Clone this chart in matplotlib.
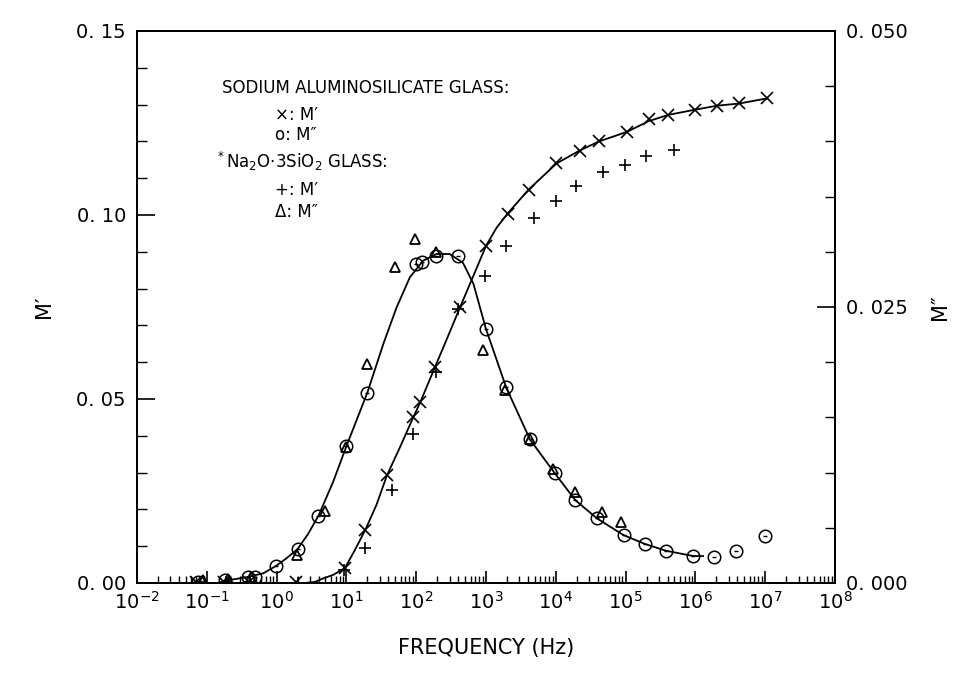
import numpy as np
import matplotlib
matplotlib.use('Agg')
import matplotlib.pyplot as plt
from matplotlib.ticker import LogLocator, MultipleLocator, NullFormatter

# log10(frequency / Hz) and values
# sodium aluminosilicate glass, M' (x markers, left axis)
sa_mp_logf = [-1.15, -0.75, -0.40, 0.28, 0.98, 1.27, 1.58, 1.96, 2.06, 2.27, 2.63, 3.00,
              3.31, 3.61, 4.01, 4.34, 4.62, 5.02, 5.33, 5.61, 5.99, 6.31, 6.63, 7.03]
sa_mp = [0.0002, 0.0002, 0.0003, 0.0003, 0.0040, 0.0144, 0.0293, 0.0451, 0.0492, 0.0587, 0.0750, 0.0916,
         0.1004, 0.1069, 0.1140, 0.1175, 0.1200, 0.1226, 0.1261, 0.1272, 0.1286, 0.1297, 0.1303, 0.1317]

# sodium aluminosilicate glass, M'' (circles, right axis)
sa_mpp_logf = [-1.12, -0.74, -0.41, -0.31, -0.01, 0.30, 0.60, 1.00, 1.30, 1.99, 2.09, 2.29, 2.60,
               3.00, 3.29, 3.63, 3.99, 4.28, 4.59, 4.97, 5.28, 5.58, 5.97, 6.27, 6.58, 7.00]
sa_mpp = [0.0001, 0.0003, 0.0005, 0.0005, 0.00154, 0.00307, 0.00609, 0.01239, 0.01724, 0.02891, 0.02905,
          0.02966, 0.02966, 0.02297, 0.01772, 0.01302, 0.00992, 0.0075, 0.00585, 0.00434, 0.00353,
          0.00292, 0.00244, 0.00238, 0.00292, 0.00428]

# Na2O.3SiO2 glass, M' (+ markers, left axis)
ns_mp_logf = [-1.10, -0.72, -0.38, 0.30, 0.97, 1.27, 1.65, 1.95, 2.28, 2.60, 2.99, 3.29,
              3.69, 4.00, 4.29, 4.68, 4.99, 5.29, 5.70]
ns_mp = [0.0002, 0.0002, 0.0003, 0.0001, 0.0035, 0.0094, 0.0252, 0.0406, 0.0573, 0.0745, 0.0834, 0.0916,
         0.0991, 0.1037, 0.1078, 0.1116, 0.1137, 0.1161, 0.1176]

# Na2O.3SiO2 glass, M'' (triangles, right axis)
ns_mpp_logf = [-1.05, -0.70, -0.36, 0.29, 0.69, 1.00, 1.29, 1.70, 1.98, 2.29, 2.96, 3.27,
               3.63, 3.96, 4.28, 4.66, 4.94]
ns_mpp = [0.0003, 0.0004, 0.0005, 0.00253, 0.00651, 0.01232, 0.01986, 0.02866, 0.03117, 0.02995, 0.02107,
          0.01745, 0.01307, 0.01037, 0.00826, 0.00645, 0.00554]

# fitted curves as drawn in the figure
fit_mp_logf = [0.40, 0.55, 0.66, 0.81, 0.98, 1.12, 1.27, 1.43, 1.58, 1.77, 1.96, 2.06, 2.27, 2.45,
               2.63, 2.82, 3.00, 3.15, 3.31, 3.61, 4.01, 4.34, 4.62, 5.02, 5.33, 5.61, 5.99, 6.31,
               6.63, 7.03]
fit_mp = [0.0, 0.0003, 0.0012, 0.0022, 0.0041, 0.0089, 0.0144, 0.0212, 0.0292, 0.0370, 0.0451, 0.0492,
          0.0587, 0.0668, 0.0750, 0.0835, 0.0916, 0.0965, 0.1004, 0.1069, 0.1140, 0.1175, 0.1200, 0.1226,
          0.1255, 0.1272, 0.1286, 0.1297, 0.1303, 0.1317]

fit_mpp_logf = [-0.75, -0.45, -0.19, -0.01, 0.14, 0.30, 0.45, 0.60, 0.81, 1.00, 1.30, 1.53, 1.72,
                1.91, 2.10, 2.29, 2.48, 2.67, 2.82, 3.00, 3.29, 3.63, 3.99, 4.28, 4.59, 4.97, 5.28,
                5.58, 5.97, 6.11]
fit_mpp = [0.0002, 0.0005, 0.00088, 0.00154, 0.00223, 0.00307, 0.00443, 0.00609, 0.00916, 0.01239,
           0.01724, 0.02167, 0.02498, 0.0277, 0.0292, 0.0298, 0.0298, 0.0290, 0.0271, 0.0230, 0.0177,
           0.0130, 0.0099, 0.0075, 0.00585, 0.00434, 0.00353, 0.00292, 0.00244, 0.00244]

left_ticks = [0.0, 0.05, 0.10, 0.15]
left_labels = ['0. 00', '0. 05', '0. 10', '0. 15']
right_ticks = [0.0, 0.025, 0.05]
right_labels = ['0. 000', '0. 025', '0. 050']

plt.rcParams['font.family'] = ['DejaVu Sans']

fig = plt.figure(figsize=(9.54, 6.83), dpi=100)
ax = fig.add_axes([137/954, 100/683, 698/954, 552/683])
ax2 = ax.twinx()

f = lambda l: 10 ** np.array(l)

ax.plot(f(fit_mp_logf), fit_mp, color='black', lw=1.3)
ax2.plot(f(fit_mpp_logf), fit_mpp, color='black', lw=1.3)

ax.plot(f(sa_mp_logf), sa_mp, 'x', color='black', ms=8, mew=1.2)
ax.plot(f(ns_mp_logf), ns_mp, '+', color='black', ms=8, mew=1.2)
ax2.plot(f(sa_mpp_logf), sa_mpp, 'o', mfc='none', mec='black', ms=9, mew=1.1)
ax2.plot(f(sa_mpp_logf), sa_mpp, '_', color='black', ms=3, mew=1.0)
ax2.plot(f(ns_mpp_logf), ns_mpp, '^', mfc='none', mec='black', ms=7, mew=1.3)

ax.set_xscale('log')
ax.set_xlim(1e-2, 1e8)
ax.set_ylim(0, 0.15)
ax2.set_ylim(0, 0.05)

ax.xaxis.set_major_locator(LogLocator(base=10, numticks=20))
ax.xaxis.set_minor_locator(LogLocator(base=10, subs=np.arange(2, 10), numticks=200))
ax.xaxis.set_minor_formatter(NullFormatter())
ax.set_yticks(left_ticks)
ax.set_yticklabels(left_labels)
ax.yaxis.set_minor_locator(MultipleLocator(0.01))
ax2.set_yticks(right_ticks)
ax2.set_yticklabels(right_labels)
ax2.yaxis.set_minor_locator(MultipleLocator(0.005))

ax.tick_params(axis='x', which='major', direction='in', length=9, width=1.2, labelsize=14, pad=6)
ax.tick_params(axis='x', which='minor', direction='in', length=5, width=1.0)
ax.tick_params(axis='y', which='major', direction='in', length=13, width=1.2, labelsize=14, pad=8)
ax.tick_params(axis='y', which='minor', direction='in', length=7, width=1.0)
ax2.tick_params(axis='y', which='major', direction='in', length=13, width=1.2, labelsize=14, pad=8)
ax2.tick_params(axis='y', which='minor', direction='in', length=7, width=1.0)

for a in (ax, ax2):
    for s in a.spines.values():
        s.set_linewidth(1.4)

ax.set_xlabel('FREQUENCY (Hz)', fontsize=15, labelpad=18)
ax.set_ylabel('M\u2032', fontsize=15, labelpad=16)
ax2.set_ylabel('M\u2033', fontsize=15, labelpad=16, rotation=90)

fs = 12
ax.text(0.122, 0.897, 'SODIUM ALUMINOSILICATE GLASS:', transform=ax.transAxes, fontsize=fs, va='center')
ax.text(0.198, 0.848, '\u00d7: M\u2032', transform=ax.transAxes, fontsize=fs, va='center')
ax.text(0.198, 0.812, 'o: M\u2033', transform=ax.transAxes, fontsize=fs, va='center')
ax.text(0.112, 0.763, r'$^*$Na$_2$O$\cdot$3SiO$_2$ GLASS:', transform=ax.transAxes, fontsize=fs, va='center')
ax.text(0.198, 0.712, '+: M\u2032', transform=ax.transAxes, fontsize=fs, va='center')
ax.text(0.198, 0.672, '\u0394: M\u2033', transform=ax.transAxes, fontsize=fs, va='center')

fig.savefig('out.png', dpi=100)
